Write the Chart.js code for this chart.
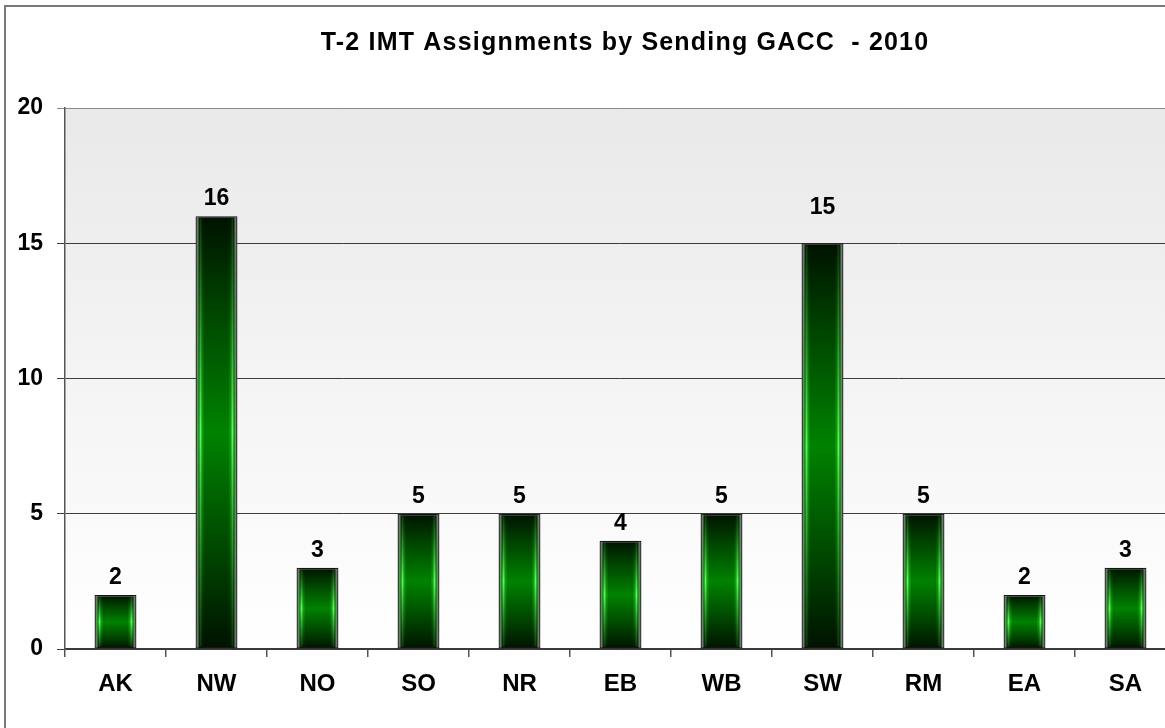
<!DOCTYPE html>
<html>
<head>
<meta charset="utf-8">
<title>T-2 IMT Assignments by Sending GACC - 2010</title>
<script src="https://cdn.jsdelivr.net/npm/chart.js@4.4.1/dist/chart.umd.min.js"></script>
<style>
  html, body { margin: 0; padding: 0; background: #ffffff; overflow: hidden; }
  #wrap { position: absolute; left: 0; top: 0; width: 1165px; height: 728px; overflow: hidden; }
  #chart { display: block; }
</style>
</head>
<body>
<div id="wrap"><canvas id="chart" width="1176" height="728"></canvas></div>
<script>
// Sending Geographic Area Coordination Centers
const categories = ['AK', 'NW', 'NO', 'SO', 'NR', 'EB', 'WB', 'SW', 'RM', 'EA', 'SA'];
// Number of Type 2 IMT assignments per sending GACC
const assignments = [2, 16, 3, 5, 5, 4, 5, 15, 5, 2, 3];
// Value axis ticks
const yTicks = [0, 5, 10, 15, 20];

const chartTitle = 'T-2 IMT Assignments by Sending GACC  - 2010';
const FONT = '"Liberation Sans", Arial, Helvetica, sans-serif';

// Frame, plot background and title
const framePlugin = {
  id: 'frame',
  beforeDraw(chart) {
    const { ctx, chartArea: a } = chart;
    ctx.save();
    ctx.fillStyle = '#ffffff';
    ctx.fillRect(0, 0, chart.width, chart.height);
    ctx.strokeStyle = '#7a7a7a';
    ctx.lineWidth = 2;
    ctx.strokeRect(5, 6, chart.width + 20, chart.height + 20);
    const g = ctx.createLinearGradient(0, a.top, 0, a.bottom);
    g.addColorStop(0, '#e9e9e9');
    g.addColorStop(1, '#ffffff');
    ctx.fillStyle = g;
    ctx.fillRect(a.left, a.top, a.right - a.left, a.bottom - a.top);
    ctx.fillStyle = '#000000';
    ctx.font = 'bold 25px ' + FONT;
    if ('letterSpacing' in ctx) ctx.letterSpacing = '1.2px';
    ctx.textAlign = 'center';
    ctx.textBaseline = 'alphabetic';
    ctx.fillText(chartTitle, 625, 50);
    ctx.restore();
  }
};

// Glossy side highlights and value labels on each bar
const barDecor = {
  id: 'barDecor',
  afterDatasetsDraw(chart, args, opts) {
    const { ctx } = chart;
    const meta = chart.getDatasetMeta(0);
    ctx.save();
    meta.data.forEach((bar) => {
      const left = bar.x - bar.width / 2;
      const right = bar.x + bar.width / 2;
      const top = bar.y;
      const bottom = bar.base;
      const h = bottom - top;
      if (h <= 4) return;
      const grey = ctx.createLinearGradient(0, top, 0, bottom);
      grey.addColorStop(0, 'rgba(120,130,120,0.9)');
      grey.addColorStop(0.5, 'rgba(100,160,100,0.8)');
      grey.addColorStop(1, 'rgba(120,130,120,0.9)');
      const glow = ctx.createLinearGradient(0, top, 0, bottom);
      glow.addColorStop(0, 'rgba(40,120,40,0.35)');
      glow.addColorStop(0.5, 'rgba(95,250,95,1)');
      glow.addColorStop(1, 'rgba(40,120,40,0.35)');
      ctx.fillStyle = grey;
      ctx.fillRect(left + 1, top + 1, 2, h - 2);
      ctx.fillRect(right - 3, top + 1, 2, h - 2);
      ctx.fillStyle = glow;
      ctx.fillRect(left + 4, top + 2, 2, h - 4);
      ctx.fillRect(right - 6, top + 2, 2, h - 4);
      const fade = ctx.createLinearGradient(0, top, 0, bottom);
      fade.addColorStop(0, 'rgba(40,180,40,0.0)');
      fade.addColorStop(0.5, 'rgba(40,210,40,0.4)');
      fade.addColorStop(1, 'rgba(40,180,40,0.0)');
      ctx.fillStyle = fade;
      ctx.fillRect(left + 6, top + 2, 2, h - 4);
      ctx.fillRect(right - 8, top + 2, 2, h - 4);
    });
    // value labels
    ctx.fillStyle = '#000000';
    ctx.font = 'bold 23px ' + FONT;
    ctx.textAlign = 'center';
    ctx.textBaseline = 'alphabetic';
    const lifts = opts.lifts || {};
    meta.data.forEach((bar, i) => {
      const lift = lifts[i] !== undefined ? lifts[i] : 11;
      ctx.fillText(String(assignments[i]), bar.x, bar.y - lift);
    });
    ctx.restore();
  }
};

const ctx = document.getElementById('chart').getContext('2d');
new Chart(ctx, {
  type: 'bar',
  data: {
    labels: categories,
    datasets: [{
      data: assignments,
      barPercentage: 0.415,
      categoryPercentage: 1.0,
      borderColor: '#141414',
      borderWidth: 1.5,
      borderSkipped: false,
      backgroundColor(c) {
        const chart = c.chart;
        if (!chart.chartArea || c.raw === undefined) return '#007a00';
        const y = chart.scales.y;
        const top = y.getPixelForValue(c.raw);
        const base = y.getPixelForValue(0);
        const g = chart.ctx.createLinearGradient(0, top, 0, base);
        g.addColorStop(0, '#001200');
        g.addColorStop(0.25, '#004c00');
        g.addColorStop(0.5, '#008200');
        g.addColorStop(0.75, '#004c00');
        g.addColorStop(1, '#001200');
        return g;
      }
    }]
  },
  options: {
    responsive: false,
    devicePixelRatio: 1,
    animation: false,
    layout: { padding: { top: 108, left: 0, right: 0, bottom: 0 } },
    plugins: {
      legend: { display: false },
      title: { display: false },
      tooltip: { enabled: false },
      barDecor: { lifts: { 7: 29 } }
    },
    scales: {
      x: {
        type: 'category',
        offset: true,
        border: { display: true, color: '#3a3a3a', width: 1.5 },
        grid: {
          offset: true,
          drawOnChartArea: false,
          drawTicks: true,
          tickLength: 8,
          color: '#555555',
          lineWidth: 1.5
        },
        ticks: {
          color: '#000000',
          font: { family: FONT, size: 24, weight: 'bold' },
          padding: 13,
          maxRotation: 0
        },
        afterFit(scale) { scale.height = 79; }
      },
      y: {
        min: 0,
        max: 20,
        afterBuildTicks(scale) { scale.ticks = yTicks.map(v => ({ value: v })); },
        border: { display: true, color: '#555555', width: 1.5 },
        grid: {
          drawTicks: true,
          tickLength: 8,
          lineWidth: 1,
          color(c) { return c.tick && c.tick.value === 20 ? '#8a8a8a' : '#3c3c3c'; }
        },
        ticks: {
          color: '#000000',
          font: { family: FONT, size: 23, weight: 'bold' },
          padding: 14
        },
        afterFit(scale) { scale.width = 65; }
      }
    }
  },
  plugins: [framePlugin, barDecor]
});
</script>
</body>
</html>
